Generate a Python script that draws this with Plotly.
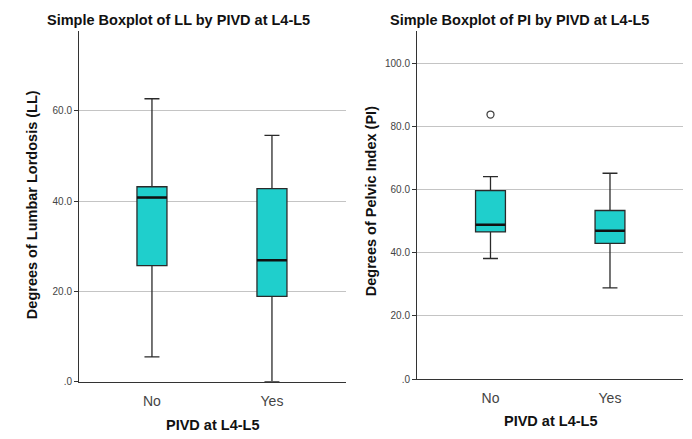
import plotly.graph_objects as go

# ---- data ----
categories = ["No", "Yes"]
ll_lower = [5.5, 0.0]
ll_q1 = [25.7, 18.9]
ll_median = [40.8, 26.9]
ll_q3 = [43.2, 42.8]
ll_upper = [62.7, 54.6]

pi_lower = [38.2, 28.9]
pi_q1 = [46.6, 43.0]
pi_median = [48.9, 47.0]
pi_q3 = [59.7, 53.4]
pi_upper = [64.1, 65.2]
pi_outlier_cat = ["No"]
pi_outlier_val = [83.8]

ll_ticks = [0, 20, 40, 60]
ll_ticktext = [".0", "20.0", "40.0", "60.0"]
pi_ticks = [0, 20, 40, 60, 80, 100]
pi_ticktext = [".0", "20.0", "40.0", "60.0", "80.0", "100.0"]

titles = ["Simple Boxplot of LL by PIVD at L4-L5", "Simple Boxplot of PI by PIVD at L4-L5"]
ytitles = ["Degrees of Lumbar Lordosis (LL)", "Degrees of Pelvic Index (PI)"]
xtitle = "PIVD at L4-L5"

# ---- styling ----
FILL = "#1fcfcc"
LINE = "#2a2a2a"
BOXW = 0.25
FONT = "Liberation Sans, Arial, sans-serif"

xpos = list(range(len(categories)))

fig = go.Figure()

def add_panel(xa, ya, lo, q1, med, q3, hi):
    fig.add_trace(go.Box(
        x=xpos, q1=q1, median=med, q3=q3, lowerfence=lo, upperfence=hi,
        xaxis=xa, yaxis=ya, width=BOXW, whiskerwidth=0.5,
        fillcolor=FILL, line=dict(color=LINE, width=1.3),
        showlegend=False, hoverinfo="skip"))
    for i, m in enumerate(med):
        fig.add_trace(go.Scatter(
            x=[xpos[i] - BOXW / 2, xpos[i] + BOXW / 2], y=[m, m],
            mode="lines", line=dict(color="#111111", width=2.4),
            xaxis=xa, yaxis=ya, showlegend=False, hoverinfo="skip"))

add_panel("x", "y", ll_lower, ll_q1, ll_median, ll_q3, ll_upper)
add_panel("x2", "y2", pi_lower, pi_q1, pi_median, pi_q3, pi_upper)

fig.add_trace(go.Scatter(
    x=[categories.index(c) for c in pi_outlier_cat], y=pi_outlier_val,
    mode="markers", marker=dict(symbol="circle-open", size=7, color="#444444",
                                line=dict(width=1.3)),
    xaxis="x2", yaxis="y2", showlegend=False, hoverinfo="skip"))

W, H = 692, 439

def px(x):
    return x / W

def py(y):
    return (H - y) / H

xcommon = dict(tickmode="array", tickvals=xpos, ticktext=categories,
               showgrid=False, zeroline=False, showline=True, linecolor="#333333",
               linewidth=1, ticks="", ticklabelstandoff=6,
               tickfont=dict(family=FONT, size=14, color="#444444"),
               fixedrange=True)
ycommon = dict(tickmode="array", showgrid=True, gridcolor="#c4c4c4", gridwidth=1,
               zeroline=False, showline=True, linecolor="#333333", linewidth=1,
               ticks="outside", ticklen=4, tickcolor="#333333",
               tickfont=dict(family=FONT, size=10, color="#444444"), fixedrange=True)

fig.update_layout(
    width=W, height=H, margin=dict(l=0, r=0, t=0, b=0),
    paper_bgcolor="white", plot_bgcolor="white",
    xaxis=dict(domain=[px(79), px(346)], range=[-0.608, 1.617], anchor="y", **xcommon),
    yaxis=dict(domain=[py(387), py(31)], range=[0, 77.8], anchor="x",
               tickvals=ll_ticks, ticktext=ll_ticktext, **ycommon),
    xaxis2=dict(domain=[px(417), px(683)], range=[-0.615, 1.611], anchor="y2", **xcommon),
    yaxis2=dict(domain=[py(384.3), py(31)], range=[0, 110.4], anchor="x2",
                tickvals=pi_ticks, ticktext=pi_ticktext, **ycommon),
)

tfont = dict(family=FONT, size=14.5, color="#111111")
ann = [
    dict(text="<b>%s</b>" % titles[0], x=px(178), y=py(20)),
    dict(text="<b>%s</b>" % titles[1], x=px(519), y=py(20)),
    dict(text="<b>%s</b>" % ytitles[0], x=px(32), y=py(208), textangle=-90),
    dict(text="<b>%s</b>" % ytitles[1], x=px(371), y=py(204), textangle=-90),
    dict(text="<b>%s</b>" % xtitle, x=px(212), y=py(431)),
    dict(text="<b>%s</b>" % xtitle, x=px(550), y=py(427)),
]
for a in ann:
    fig.add_annotation(xref="paper", yref="paper", showarrow=False,
                       xanchor="center", yanchor="middle", font=tfont, **a)

fig.write_html("out.html")
